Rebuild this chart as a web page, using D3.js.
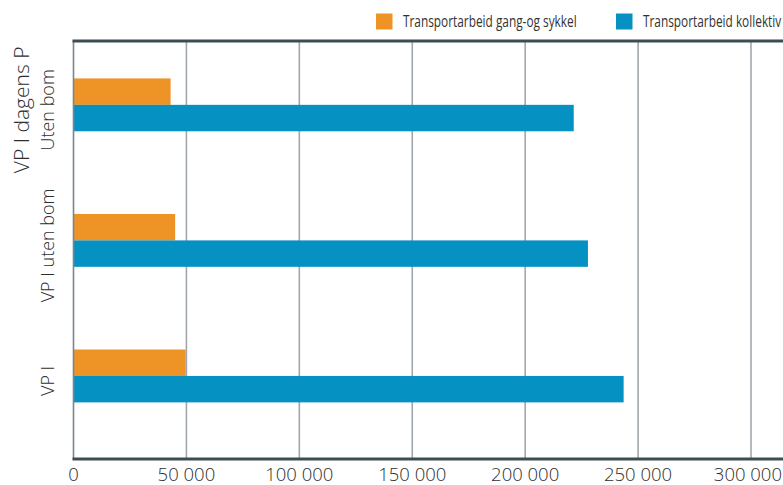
<!DOCTYPE html>
<html>
<head>
<meta charset="utf-8">
<script src="https://cdn.jsdelivr.net/npm/d3@7"></script>
<style>
  html, body { margin: 0; padding: 0; background: #fff; }
  svg { display: block; font-family: "Open Sans", "Noto Sans", sans-serif; }
</style>
</head>
<body>
<svg id="chart" width="783" height="485"></svg>
<script>
// Categories, top to bottom; "\n" splits a label into two lines
const categories = ["VP I dagens P\nUten bom", "VP I uten bom", "VP I"];
// Series
const seriesNames = ["Transportarbeid gang-og sykkel", "Transportarbeid kollektiv"];
const gangOgSykkel = [43000, 45000, 49700];
const kollektiv = [221500, 227800, 243600];
const xTickValues = [0, 50000, 100000, 150000, 200000, 250000, 300000];

const colors = ["#ee9326", "#0591c1"];

const width = 783, height = 485;
const plot = { left: 73.5, right: 751, top: 41, bottom: 458.5 };

const svg = d3.select("#chart");

const nb = d3.formatLocale({ decimal: ",", thousands: "\u00a0", grouping: [3], currency: ["", " kr"] });
const fmt = nb.format(",");

const x = d3.scaleLinear().domain([0, 300000]).range([plot.left, plot.right]);

const y = d3.scaleBand()
  .domain(categories)
  .range([plot.top, plot.bottom])
  .paddingInner(0.61)
  .paddingOuter(0.345)
  .align(0.4);

const ySub = d3.scaleBand()
  .domain(seriesNames)
  .range([0, y.bandwidth()])
  .padding(0);

// Vertical gridlines (skip 0, that's the left axis)
svg.append("g")
  .selectAll("line")
  .data(xTickValues.filter(d => d > 0))
  .join("line")
  .attr("x1", d => x(d)).attr("x2", d => x(d))
  .attr("y1", plot.top).attr("y2", plot.bottom)
  .attr("stroke", "#a0a8ad")
  .attr("stroke-width", 1.6);

// Bars
const rows = categories.map((c, i) => ({ cat: c, values: [gangOgSykkel[i], kollektiv[i]] }));
const groups = svg.append("g")
  .selectAll("g")
  .data(rows)
  .join("g")
  .attr("transform", d => `translate(0,${y(d.cat)})`);

groups.selectAll("rect")
  .data(d => d.values.map((v, j) => ({ name: seriesNames[j], value: v, j })))
  .join("rect")
  .attr("x", x(0))
  .attr("y", d => ySub(d.name))
  .attr("width", d => x(d.value) - x(0))
  .attr("height", ySub.bandwidth())
  .attr("fill", d => colors[d.j]);

// Left axis line
svg.append("line")
  .attr("x1", plot.left).attr("x2", plot.left)
  .attr("y1", plot.top).attr("y2", plot.bottom)
  .attr("stroke", "#7b868c")
  .attr("stroke-width", 1.6);

// Top and bottom frame lines
svg.append("line")
  .attr("x1", plot.left - 1).attr("x2", width)
  .attr("y1", plot.top).attr("y2", plot.top)
  .attr("stroke", "#3e4d55")
  .attr("stroke-width", 3);
svg.append("line")
  .attr("x1", plot.left - 1).attr("x2", width)
  .attr("y1", plot.bottom + 0.5).attr("y2", plot.bottom + 0.5)
  .attr("stroke", "#3e4d55")
  .attr("stroke-width", 3);

// X tick labels; the last one is kept inside the right edge
const lastTick = xTickValues[xTickValues.length - 1];
svg.append("g")
  .selectAll("text")
  .data(xTickValues)
  .join("text")
  .attr("x", d => d === lastTick ? width - 1 : x(d))
  .attr("y", 480.5)
  .attr("text-anchor", d => d === lastTick ? "end" : "middle")
  .attr("font-size", 18.5)
  .attr("font-weight", 300)
  .attr("fill", "#2e2e2e")
  .text(d => fmt(d));

// Category labels, rotated
const labelG = svg.append("g")
  .selectAll("g")
  .data(categories)
  .join("g")
  .attr("transform", d => `translate(53.5,${y(d) + y.bandwidth() / 2 + 5}) rotate(-90)`);

labelG.each(function (d) {
  const lines = d.split("\n");
  const g = d3.select(this);
  lines.forEach((line, i) => {
    const last = i === lines.length - 1;
    g.append("text")
      .attr("x", 0)
      .attr("y", last ? 0 : -25 * (lines.length - 1 - i))
      .attr("text-anchor", "middle")
      .attr("font-size", lines.length > 1 && !last ? 21 : 18)
      .attr("font-weight", 300)
      .attr("fill", "#2e2e2e")
      .text(line);
  });
});

// Legend
const legendX = [376, 616];
const legend = svg.append("g")
  .selectAll("g")
  .data(seriesNames)
  .join("g")
  .attr("transform", (d, i) => `translate(${legendX[i]},13.5)`);
legend.append("rect")
  .attr("width", 16.5).attr("height", 16)
  .attr("fill", (d, i) => colors[i]);
legend.append("text")
  .attr("transform", "translate(27,13.8) scale(0.765,1)")
  .attr("font-size", 15.5)
  .attr("font-weight", 400)
  .attr("fill", "#333")
  .text(d => d);
</script>
</body>
</html>
